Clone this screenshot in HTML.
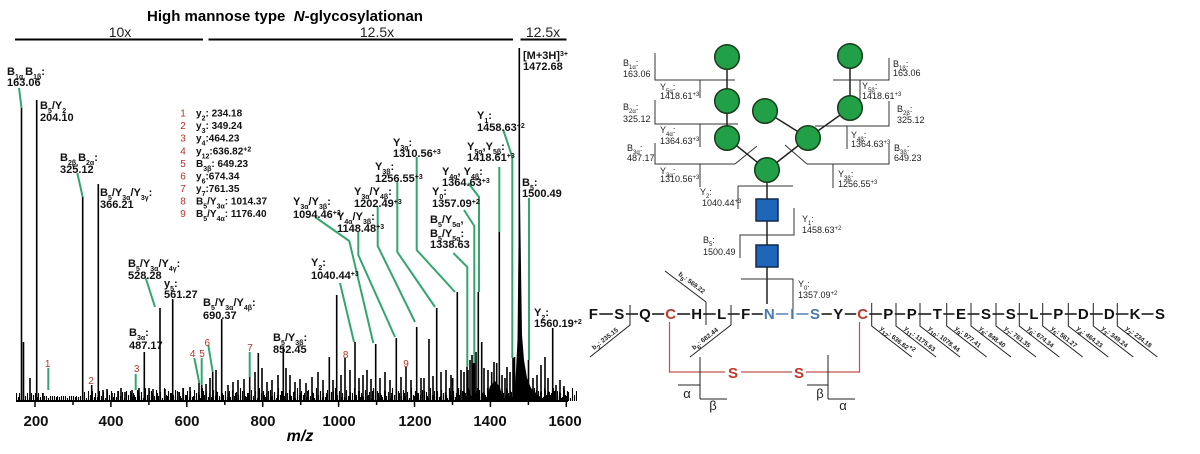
<!DOCTYPE html>
<html><head><meta charset="utf-8">
<style>
html,body{margin:0;padding:0;background:#fff;}
svg{display:block;}
text{font-family:"Liberation Sans",Arial,sans-serif;}
.lb{font-size:11px;font-weight:bold;fill:#111;}
.s{font-size:7px;baseline-shift:sub;}
.p{font-size:7px;baseline-shift:super;}
.rn{font-size:10px;fill:#b8322a;text-anchor:middle;}
.lg{font-size:10px;font-weight:bold;fill:#111;}
.gl{font-size:9px;fill:#222;}
.gs{font-size:6px;baseline-shift:sub;}
.gp{font-size:6px;baseline-shift:super;}
.aa{font-size:15px;font-weight:bold;text-anchor:middle;fill:#111;}
.yl{font-size:6.5px;font-weight:bold;fill:#222;}
.tk{font-size:15px;font-weight:bold;text-anchor:middle;fill:#111;}
</style></head><body>
<svg width="1200" height="454" viewBox="0 0 1200 454" xmlns="http://www.w3.org/2000/svg">
<defs>
<pattern id="nz" patternUnits="userSpaceOnUse" x="0" y="379" width="19" height="22"><path d="M0.5 22V14M2.5 22V18M4.5 22V11M6.5 22V17M8.5 22V13M10.5 22V19M12.5 22V9M14.5 22V16M16.5 22V12M18.5 22V18" stroke="#000" stroke-width="1.1"/></pattern>
<pattern id="nz2" patternUnits="userSpaceOnUse" x="3" y="379" width="13" height="22"><path d="M1.5 22V16M5.5 22V12M8.5 22V17M11.5 22V14" stroke="#000" stroke-width="1.1"/></pattern>
</defs>

<!-- Title -->
<text x="285" y="21" text-anchor="middle" font-size="15" font-weight="bold" xml:space="preserve">High mannose type  <tspan font-style="italic">N</tspan>-glycosylationan</text>
<path d="M15 39.5H203M208.5 39.5H513M520.5 39.5H566.5" stroke="#000" stroke-width="2"/>
<text x="120" y="37" text-anchor="middle" font-size="14" fill="#222">10x</text>
<text x="377" y="37" text-anchor="middle" font-size="14" fill="#222">12.5x</text>
<text x="543" y="37" text-anchor="middle" font-size="14" fill="#222">12.5x</text>

<!-- noise -->
<rect x="16" y="393" width="30" height="8" fill="url(#nz)"/>
<rect x="46" y="396" width="38" height="5" fill="url(#nz)"/>
<rect x="84" y="391" width="46" height="10" fill="url(#nz)"/>
<rect x="130" y="387" width="200" height="14" fill="url(#nz)"/>
<rect x="130" y="389" width="200" height="12" fill="url(#nz2)"/>
<rect x="330" y="386" width="130" height="15" fill="url(#nz)"/>
<rect x="330" y="386" width="130" height="15" fill="url(#nz2)"/>
<rect x="440" y="383" width="128" height="18" fill="url(#nz)"/>
<rect x="440" y="384" width="128" height="17" fill="url(#nz2)"/>
<rect x="448" y="386" width="120" height="15" fill="url(#nz)" transform="translate(9,0)"/>

<!-- peaks -->
<path fill="none" stroke="#000" stroke-width="1.6" d="M21.5 401V108M23.5 401V342M30 401V378M36.7 401V100M43 401V393M82.7 401V197M91.7 401V385M98.3 401V184M103 401V390M107 401V389M112 401V393M118 401V391M121 401V388M125 401V392M132 401V390M139 401V388M144.3 401V352M149 401V388M153 401V389M160 401V308M165 401V389M172.7 401V299M178 401V392M183 401V388M190 401V387M199 401V383M201.7 401V385M206 401V384M210 401V378M212.7 401V372M216 401V370M221.7 401V319M228 401V385M233 401V382M238 401V380M244 401V379M249.7 401V377M255 401V372M258.3 401V353M262 401V368M267 401V382M272 401V380M278 401V375M283.3 401V347M286 401V368M290 401V375M295 401V382M300 401V379M306 401V383M312 401V377M318 401V372M323 401V380M329.3 401V357M333 401V380M336.7 401V295M341 401V375M345 401V358M350 401V370M355 401V342M359 401V378M363 401V375M367 401V370M371 401V379M375.7 401V344M380 401V378M385 401V372M390 401V380M396.3 401V338M401 401V377M406 401V367M411 401V380M416.7 401V327M421 401V378M424 401V378M429 401V339M433 401V376M436.7 401V308M441 401V372M446 401V370M451 401V375M452.7 401V378M457.3 401V292M461 401V370M464 401V372M467 401V367M468 401V370M470 401V360M472 401V355M473 401V363M474.3 401V363M476 401V352M478.3 401V292M481.7 401V342M484 401V368M488 401V370M491.7 401V372M494 401V362M496.7 401V363M499.3 401V232M502 401V375M505 401V378M507 401V367M510 401V372M513 401V358M514.5 401V357M519.3 401V48M528.5 401V360M533 401V378M537 401V375M541 401V365M545 401V357M548 401V378M552.7 401V328M556 401V385M560 401V380M564 401V386"/>
<path d="M514 401L516 370L517.5 340L519 200L520 200L522 335L524 360L527 378L531 388L538 395L545 401Z" fill="#000"/>
<path d="M486 401L490 386L495 381L500 387L503 401Z" fill="#000"/>

<!-- axis -->
<path d="M16 401H568" stroke="#000" stroke-width="2"/>
<path d="M35 401V407M110.9 401V407M186.8 401V407M262.7 401V407M338.6 401V407M414.5 401V407M490.4 401V407M566.3 401V407M73 401V405M148.9 401V405M224.8 401V405M300.7 401V405M376.6 401V405M452.5 401V405M528.4 401V405" stroke="#000" stroke-width="1.5"/>
<text class="tk" x="36" y="426">200</text>
<text class="tk" x="111" y="426">400</text>
<text class="tk" x="187" y="426">600</text>
<text class="tk" x="263" y="426">800</text>
<text class="tk" x="339" y="426">1000</text>
<text class="tk" x="415" y="426">1200</text>
<text class="tk" x="490" y="426">1400</text>
<text class="tk" x="565" y="426">1600</text>
<text x="300" y="441" text-anchor="middle" font-size="16" font-weight="bold" font-style="italic">m/z</text>

<!-- green annotation lines -->
<path fill="none" stroke="#35a56e" stroke-width="2" d="M19 88L21.5 108M77.3 173L82.7 197M48.3 368V390M135.7 374V390M145.7 278L155 307M194.3 358L199.3 383M201.7 358V385M208.3 345L212.7 372M249.7 352V377M340 283L354 342M315 217L349.3 241L373.3 343M358.3 232V255L395 337M377.7 207V246L415 322M397.3 181V252L435 307M416.7 157V250L455 292M453.3 253L467.3 267V367M464 210L474.3 226V363M468.3 183L479 197V292M499.3 167V232M503.3 130L512.3 157V358M529 198V360"/>

<!-- spectrum labels -->
<text class="lb" x="7" y="75">B<tspan class="s">1α,</tspan>B<tspan class="s">1β</tspan>:</text>
<text class="lb" x="7" y="86">163.06</text>
<text class="lb" x="40" y="109">B<tspan class="s">5</tspan>/Y<tspan class="s">2</tspan></text>
<text class="lb" x="40" y="121">204.10</text>
<text class="lb" x="60" y="161">B<tspan class="s">2β,</tspan>B<tspan class="s">2α</tspan>:</text>
<text class="lb" x="60" y="173">325.12</text>
<text class="lb" x="100" y="196">B<tspan class="s">5</tspan>/Y<tspan class="s">3α</tspan>/Y<tspan class="s">3γ</tspan>:</text>
<text class="lb" x="100" y="208">366.21</text>
<text class="lb" x="128" y="267">B<tspan class="s">5</tspan>/Y<tspan class="s">3α</tspan>/Y<tspan class="s">4γ</tspan>:</text>
<text class="lb" x="128" y="279">528.28</text>
<text class="lb" x="164" y="287">y<tspan class="s">5</tspan>:</text>
<text class="lb" x="164" y="298">561.27</text>
<text class="lb" x="129" y="336">B<tspan class="s">3α</tspan>:</text>
<text class="lb" x="129" y="349">487.17</text>
<text class="lb" x="203" y="306">B<tspan class="s">5</tspan>/Y<tspan class="s">3α</tspan>/Y<tspan class="s">4β</tspan>:</text>
<text class="lb" x="203" y="319">690.37</text>
<text class="lb" x="273" y="341">B<tspan class="s">5</tspan>/Y<tspan class="s">3β</tspan>:</text>
<text class="lb" x="273" y="353">852.45</text>
<text class="lb" x="311" y="266">Y<tspan class="s">2</tspan>:</text>
<text class="lb" x="311" y="279">1040.44<tspan class="p">+3</tspan></text>
<text class="lb" x="293" y="205">Y<tspan class="s">3α</tspan>/Y<tspan class="s">3β</tspan>:</text>
<text class="lb" x="293" y="218">1094.46<tspan class="p">+3</tspan></text>
<text class="lb" x="337" y="220">Y<tspan class="s">4α</tspan>/Y<tspan class="s">3β</tspan>:</text>
<text class="lb" x="337" y="232">1148.48<tspan class="p">+3</tspan></text>
<text class="lb" x="354" y="195">Y<tspan class="s">3α</tspan>/Y<tspan class="s">4β</tspan>:</text>
<text class="lb" x="354" y="207">1202.49<tspan class="p">+3</tspan></text>
<text class="lb" x="375" y="170">Y<tspan class="s">3β</tspan>:</text>
<text class="lb" x="375" y="182">1256.55<tspan class="p">+3</tspan></text>
<text class="lb" x="393" y="146">Y<tspan class="s">3α</tspan>:</text>
<text class="lb" x="393" y="157">1310.56<tspan class="p">+3</tspan></text>
<text class="lb" x="432" y="195">Y<tspan class="s">0</tspan>:</text>
<text class="lb" x="432" y="207">1357.09<tspan class="p">+2</tspan></text>
<text class="lb" x="442" y="175">Y<tspan class="s">4α</tspan>, Y<tspan class="s">4β</tspan>:</text>
<text class="lb" x="442" y="186">1364.63<tspan class="p">+3</tspan></text>
<text class="lb" x="430" y="223">B<tspan class="s">5</tspan>/Y<tspan class="s">5α</tspan>,</text>
<text class="lb" x="430" y="237">B<tspan class="s">5</tspan>/Y<tspan class="s">5α</tspan>:</text>
<text class="lb" x="430" y="248">1338.63</text>
<text class="lb" x="467" y="150">Y<tspan class="s">5α</tspan>,Y<tspan class="s">5β</tspan>:</text>
<text class="lb" x="467" y="161">1418.61<tspan class="p">+3</tspan></text>
<text class="lb" x="477" y="119">Y<tspan class="s">1</tspan>:</text>
<text class="lb" x="477" y="131">1458.63<tspan class="p">+2</tspan></text>
<text class="lb" x="522" y="186">B<tspan class="s">5</tspan>:</text>
<text class="lb" x="522" y="197">1500.49</text>
<text class="lb" x="534" y="316">Y<tspan class="s">2</tspan>:</text>
<text class="lb" x="534" y="327">1560.19<tspan class="p">+2</tspan></text>
<text class="lb" x="523" y="59">[M+3H]<tspan class="p">3+</tspan></text>
<text class="lb" x="523" y="70">1472.68</text>

<!-- red numbers -->
<text class="rn" x="47.7" y="367">1</text>
<text class="rn" x="91" y="384">2</text>
<text class="rn" x="136.7" y="372">3</text>
<text class="rn" x="192.7" y="357">4</text>
<text class="rn" x="202" y="357">5</text>
<text class="rn" x="207.3" y="346">6</text>
<text class="rn" x="250" y="351">7</text>
<text class="rn" x="345.7" y="358">8</text>
<text class="rn" x="406" y="367">9</text>

<!-- legend -->
<g>
<text class="rn" x="183" y="116.5">1</text><text class="lg" x="196" y="116.5">y<tspan class="s">2</tspan>: 234.18</text>
<text class="rn" x="183" y="129">2</text><text class="lg" x="196" y="129">y<tspan class="s">3</tspan>: 349.24</text>
<text class="rn" x="183" y="141.5">3</text><text class="lg" x="196" y="141.5">y<tspan class="s">4</tspan>:464.23</text>
<text class="rn" x="183" y="154.5">4</text><text class="lg" x="196" y="154.5">y<tspan class="s">12</tspan>:636.82<tspan class="p">+2</tspan></text>
<text class="rn" x="183" y="167">5</text><text class="lg" x="196" y="167">B<tspan class="s">3β</tspan>: 649.23</text>
<text class="rn" x="183" y="179.5">6</text><text class="lg" x="196" y="179.5">y<tspan class="s">6</tspan>:674.34</text>
<text class="rn" x="183" y="192">7</text><text class="lg" x="196" y="192">y<tspan class="s">7</tspan>:761.35</text>
<text class="rn" x="183" y="204.5">8</text><text class="lg" x="196" y="204.5">B<tspan class="s">5</tspan>/Y<tspan class="s">3α</tspan>: 1014.37</text>
<text class="rn" x="183" y="217">9</text><text class="lg" x="196" y="217">B<tspan class="s">5</tspan>/Y<tspan class="s">4α</tspan>: 1176.40</text>
</g>

<!-- ===== Glycan structure ===== -->
<path fill="none" stroke="#333" stroke-width="1" d="M655 53V80H735M700 80V98M655 100V124H738M700 124V147M655 143V164H735M735 164L757 146M700 164V187M738 186H793M738 186V209M740 258V235H794V208M889 58V80H833M860 80V102M889 101V126H815M847 126V149M889 144V164H807M785 145L807 164M833 164V188"/>
<path fill="none" stroke="#222" stroke-width="1.5" d="M727 57V138L767 170L808 138L850 108M808 138L765 111M850 56V108M767 170V304"/>
<g fill="#22a047" stroke="#163d1c" stroke-width="1.5">
<circle cx="727" cy="57" r="12.3"/>
<circle cx="850" cy="56" r="12.3"/>
<circle cx="727" cy="101" r="12.3"/>
<circle cx="765" cy="111" r="12.3"/>
<circle cx="850" cy="108" r="12.3"/>
<circle cx="727" cy="138" r="12.3"/>
<circle cx="808" cy="138" r="12.3"/>
<circle cx="767" cy="170" r="12.3"/>
</g>
<g fill="#1d66b9" stroke="#10284d" stroke-width="1.5">
<rect x="756" y="199" width="22" height="22"/>
<rect x="756" y="245" width="22" height="22"/>
</g>
<text class="gl" x="623" y="66">B<tspan class="gs">1α</tspan>:</text>
<text class="gl" x="623" y="77">163.06</text>
<text class="gl" x="660" y="90">Y<tspan class="gs">5α</tspan>:</text>
<text class="gl" x="660" y="99">1418.61<tspan class="gp">+3</tspan></text>
<text class="gl" x="623" y="110">B<tspan class="gs">2α</tspan>:</text>
<text class="gl" x="623" y="122">325.12</text>
<text class="gl" x="660" y="133">Y<tspan class="gs">4α</tspan>:</text>
<text class="gl" x="660" y="144">1364.63<tspan class="gp">+3</tspan></text>
<text class="gl" x="627" y="151">B<tspan class="gs">3α</tspan>:</text>
<text class="gl" x="627" y="161">487.17</text>
<text class="gl" x="660" y="174">Y<tspan class="gs">3α</tspan>:</text>
<text class="gl" x="660" y="182">1310.56<tspan class="gp">+3</tspan></text>
<text class="gl" x="700" y="195">Y<tspan class="gs">2</tspan>:</text>
<text class="gl" x="702" y="206">1040.44<tspan class="gp">+3</tspan></text>
<text class="gl" x="802" y="222">Y<tspan class="gs">1</tspan>:</text>
<text class="gl" x="802" y="233">1458.63<tspan class="gp">+2</tspan></text>
<text class="gl" x="703" y="243">B<tspan class="gs">5</tspan>:</text>
<text class="gl" x="703" y="255">1500.49</text>
<text class="gl" x="893" y="67">B<tspan class="gs">1β</tspan>:</text>
<text class="gl" x="893" y="76">163.06</text>
<text class="gl" x="862" y="89">Y<tspan class="gs">5β</tspan>:</text>
<text class="gl" x="862" y="99">1418.61<tspan class="gp">+3</tspan></text>
<text class="gl" x="897" y="112">B<tspan class="gs">2β</tspan>:</text>
<text class="gl" x="897" y="123">325.12</text>
<text class="gl" x="851" y="138">Y<tspan class="gs">4β</tspan>:</text>
<text class="gl" x="851" y="147">1364.63<tspan class="gp">+3</tspan></text>
<text class="gl" x="894" y="151">B<tspan class="gs">3β</tspan>:</text>
<text class="gl" x="894" y="161">649.23</text>
<text class="gl" x="838" y="177">Y<tspan class="gs">3β</tspan>:</text>
<text class="gl" x="838" y="187">1256.55<tspan class="gp">+3</tspan></text>

<!-- ===== Peptide ===== -->
<path fill="none" stroke="#333" stroke-width="1" d="M741 279H793V319"/>
<text class="gl" x="798" y="287">Y<tspan class="gs">0</tspan>:</text>
<text class="gl" x="798" y="298">1357.09<tspan class="gp">+2</tspan></text>

<path fill="none" stroke="#111" stroke-width="1.5" d="M599.3 314H612.8M625.8 314H638M652 314H664.2M677.2 314H690.2M703.2 314H715.7M727.7 314H739.7M751.7 314H762.8M821.5 314H831.8M844.8 314H856.2M869.2 314H881.8M894.8 314H905.2M918.2 314H931.3M943.3 314H954.5M967.5 314H979.5M992.5 314H1004.2M1017.2 314H1028M1040 314H1051.8M1064.8 314H1076.8M1089.8 314H1102.8M1115.8 314H1128.5M1141.5 314H1153.5"/>
<path fill="none" stroke="#5a80b8" stroke-width="1.5" d="M775.8 314H788.3M796.3 314H808.5"/>

<!-- cleavage marks -->
<path fill="none" stroke="#222" stroke-width="1" d="M630 305V325L590 357M706 325V302L665 271M731 305V325L690 357M871.7 303V326L911.7 357M896 303V326L936 357M920 303V326L960 357M946.7 303V326L986.7 357M971 303V326L1011 357M996 303V326L1036 357M1019.3 303V326L1059.3 357M1042.7 303V326L1082.7 357M1068.3 303V326L1108.3 357M1093.3 303V326L1133.3 357M1117.3 303V326L1157.3 357"/>
<text class="yl" transform="translate(594,350) rotate(-38)">b<tspan class="gs">2</tspan>: 235.15</text>
<text class="yl" transform="translate(678,275) rotate(37)">b<tspan class="gs">5</tspan>: 569.22</text>
<text class="yl" transform="translate(694,350) rotate(-38)">b<tspan class="gs">6</tspan>: 682.44</text>
<text class="yl" transform="translate(879.7,329) rotate(38)">y<tspan class="gs">12</tspan>: 636.82<tspan class="gp">+2</tspan></text>
<text class="yl" transform="translate(904,329) rotate(38)">y<tspan class="gs">11</tspan>: 1175.63</text>
<text class="yl" transform="translate(928,329) rotate(38)">y<tspan class="gs">10</tspan>: 1078.44</text>
<text class="yl" transform="translate(954.7,329) rotate(38)">y<tspan class="gs">9</tspan>: 977.41</text>
<text class="yl" transform="translate(979,329) rotate(38)">y<tspan class="gs">8</tspan>: 848.40</text>
<text class="yl" transform="translate(1004,329) rotate(38)">y<tspan class="gs">7</tspan>: 761.35</text>
<text class="yl" transform="translate(1027.3,329) rotate(38)">y<tspan class="gs">6</tspan>: 674.34</text>
<text class="yl" transform="translate(1050.7,329) rotate(38)">y<tspan class="gs">5</tspan>: 561.27</text>
<text class="yl" transform="translate(1076.3,329) rotate(38)">y<tspan class="gs">4</tspan>: 464.23</text>
<text class="yl" transform="translate(1101.3,329) rotate(38)">y<tspan class="gs">3</tspan>: 349.24</text>
<text class="yl" transform="translate(1125.3,329) rotate(38)">y<tspan class="gs">2</tspan>: 234.18</text>

<!-- residues -->
<text class="aa" x="593.3" y="319">F</text>
<text class="aa" x="619.3" y="319">S</text>
<text class="aa" x="645" y="319">Q</text>
<text class="aa" x="670.7" y="319" style="fill:#c0392b">C</text>
<text class="aa" x="696.7" y="319">H</text>
<text class="aa" x="721.7" y="319">L</text>
<text class="aa" x="745.7" y="319">F</text>
<text class="aa" x="769.3" y="319" style="fill:#4a78b0">N</text>
<text class="aa" x="792.3" y="319" style="fill:#4a78b0">I</text>
<text class="aa" x="815" y="319" style="fill:#4a78b0">S</text>
<text class="aa" x="838.3" y="319">Y</text>
<text class="aa" x="862.7" y="319" style="fill:#c0392b">C</text>
<text class="aa" x="888.3" y="319">P</text>
<text class="aa" x="911.7" y="319">P</text>
<text class="aa" x="937.3" y="319">T</text>
<text class="aa" x="961" y="319">E</text>
<text class="aa" x="986" y="319">S</text>
<text class="aa" x="1010.7" y="319">S</text>
<text class="aa" x="1034" y="319">L</text>
<text class="aa" x="1058.3" y="319">P</text>
<text class="aa" x="1083.3" y="319">D</text>
<text class="aa" x="1109.3" y="319">D</text>
<text class="aa" x="1135" y="319">K</text>
<text class="aa" x="1160" y="319">S</text>

<!-- disulfide -->
<path fill="none" stroke="#c0504d" stroke-width="1.2" d="M669.5 322V372H725M741 372H792M806 372H859.5V322"/>
<text class="aa" x="733" y="378" style="fill:#c0392b">S</text>
<text class="aa" x="799" y="378" style="fill:#c0392b">S</text>

<!-- alpha/beta -->
<path fill="none" stroke="#222" stroke-width="1" d="M700 357V399M678 385H700M700 399H727M828 355V399M807 385H828M828 399H855"/>
<text x="687" y="398" text-anchor="middle" font-family="Liberation Serif,serif" font-size="13" fill="#222">α</text>
<text x="713" y="410" text-anchor="middle" font-family="Liberation Serif,serif" font-size="13" fill="#222">β</text>
<text x="820" y="398" text-anchor="middle" font-family="Liberation Serif,serif" font-size="13" fill="#222">β</text>
<text x="843" y="410" text-anchor="middle" font-family="Liberation Serif,serif" font-size="13" fill="#222">α</text>
</svg>
</body></html>
